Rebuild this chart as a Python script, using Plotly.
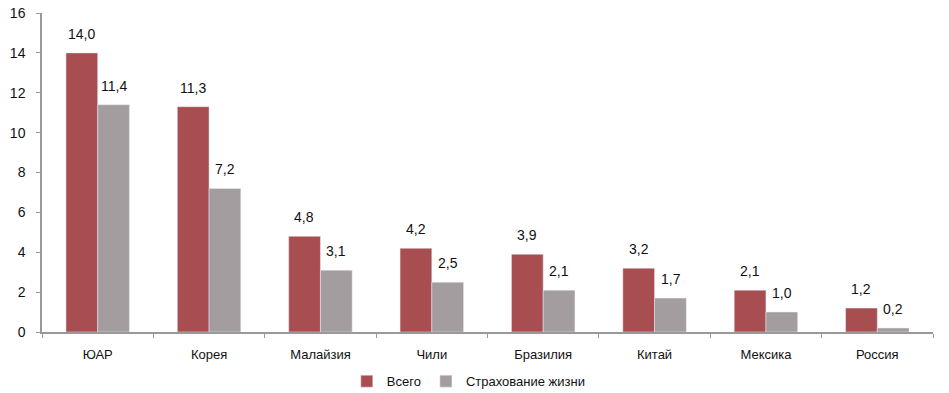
import plotly.graph_objects as go

categories = ["ЮАР", "Корея", "Малайзия", "Чили", "Бразилия", "Китай", "Мексика", "Россия"]
total = [14.0, 11.3, 4.8, 4.2, 3.9, 3.2, 2.1, 1.2]
life = [11.4, 7.2, 3.1, 2.5, 2.1, 1.7, 1.0, 0.2]
y_ticks = [0, 2, 4, 6, 8, 10, 12, 14, 16]

def fmt(v):
    return f"{v:.1f}".replace(".", ",")

font = "Liberation Sans, Arial, sans-serif"
fig = go.Figure()
fig.add_trace(go.Bar(x=categories, y=total, name="Всего", marker_color="#A84E50"))
fig.add_trace(go.Bar(x=categories, y=life, name="Страхование жизни", marker_color="#A39D9F"))

half_bar = 16
for cat, v in zip(categories, total):
    fig.add_annotation(x=cat, y=v, text=fmt(v), showarrow=False, xshift=-half_bar,
                       yanchor="bottom", yshift=9, font=dict(size=14, color="#111"))
for cat, v in zip(categories, life):
    fig.add_annotation(x=cat, y=v, text=fmt(v), showarrow=False, xshift=half_bar,
                       yanchor="bottom", yshift=9, font=dict(size=14, color="#111"))

fig.update_layout(
    width=949, height=393, barmode="group", bargap=0.43, bargroupgap=0,
    margin=dict(l=42, r=16, t=13, b=61),
    plot_bgcolor="white", paper_bgcolor="white",
    font=dict(family=font, size=14, color="#111"),
    showlegend=True,
    legend=dict(orientation="h", xref="container", yref="container",
                x=0.494, xanchor="center", y=0.03, yanchor="middle",
                font=dict(size=13), itemwidth=30, traceorder="normal", tracegroupgap=0),
)
fig.update_yaxes(range=[0, 16], tickvals=y_ticks, showgrid=False, showline=True,
                 linecolor="#999", linewidth=1.5, ticks="outside", ticklen=4, tickcolor="#999",
                 tickfont=dict(size=14), zeroline=False, automargin=False,
                 ticklabelstandoff=8)
fig.update_xaxes(showline=True, linecolor="#999", linewidth=1.5, ticks="outside",
                 tickson="boundaries", ticklen=4, tickcolor="#999", tickfont=dict(size=13),
                 automargin=False, ticklabelstandoff=10)
fig.write_html("out.html", config={"displayModeBar": False},
               post_script="document.body.style.margin='0';document.body.style.overflow='hidden';")
